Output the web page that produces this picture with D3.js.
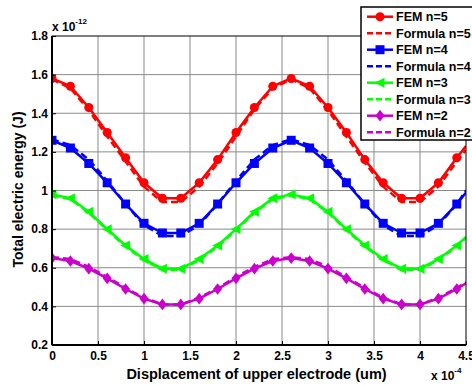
<!DOCTYPE html>
<html>
<head>
<meta charset="utf-8">
<script src="https://cdn.jsdelivr.net/npm/d3@7"></script>
<style>
  html, body { margin: 0; padding: 0; background: #fff; }
  svg { display: block; font-family: "Liberation Sans", Arial, sans-serif; }
</style>
</head>
<body>
<svg id="chart" width="472" height="386"></svg>
<script>
// Displacement of the upper electrode, in units of 1e-4 um
const displacement = [0, 0.2, 0.4, 0.6, 0.8, 1.0, 1.2, 1.4, 1.6, 1.8, 2.0, 2.2, 2.4, 2.6, 2.8, 3.0, 3.2, 3.4, 3.6, 3.8, 4.0, 4.2, 4.4, 4.5];

// Total electric energy, in units of 1e-12 J
const femN5     = [1.58, 1.54, 1.43, 1.30, 1.17, 1.04, 0.96, 0.96, 1.04, 1.16, 1.30, 1.43, 1.54, 1.58, 1.54, 1.43, 1.30, 1.16, 1.04, 0.96, 0.96, 1.04, 1.17, 1.23];
const formulaN5 = [1.575, 1.53, 1.415, 1.28, 1.15, 1.02, 0.94, 0.94, 1.02, 1.14, 1.28, 1.42, 1.53, 1.575, 1.53, 1.415, 1.28, 1.145, 1.02, 0.94, 0.94, 1.02, 1.15, 1.21];
const femN4     = [1.26, 1.22, 1.14, 1.04, 0.93, 0.83, 0.78, 0.78, 0.83, 0.93, 1.04, 1.14, 1.22, 1.26, 1.22, 1.14, 1.04, 0.93, 0.83, 0.78, 0.78, 0.83, 0.93, 0.99];
const formulaN4 = [1.265, 1.235, 1.16, 1.05, 0.93, 0.82, 0.765, 0.765, 0.82, 0.93, 1.05, 1.16, 1.235, 1.265, 1.235, 1.16, 1.05, 0.93, 0.82, 0.765, 0.765, 0.82, 0.93, 1.0];
const femN3     = [0.98, 0.96, 0.89, 0.80, 0.715, 0.645, 0.595, 0.595, 0.645, 0.715, 0.80, 0.89, 0.96, 0.98, 0.96, 0.89, 0.80, 0.715, 0.645, 0.595, 0.595, 0.645, 0.715, 0.76];
const formulaN3 = [0.975, 0.955, 0.885, 0.795, 0.71, 0.64, 0.59, 0.59, 0.64, 0.71, 0.795, 0.885, 0.955, 0.975, 0.955, 0.885, 0.795, 0.71, 0.64, 0.59, 0.59, 0.64, 0.71, 0.755];
const femN2     = [0.65, 0.635, 0.595, 0.545, 0.49, 0.44, 0.41, 0.41, 0.44, 0.49, 0.545, 0.595, 0.635, 0.65, 0.635, 0.595, 0.545, 0.49, 0.44, 0.41, 0.41, 0.44, 0.49, 0.52];
const formulaN2 = [0.655, 0.645, 0.605, 0.552, 0.495, 0.445, 0.41, 0.41, 0.445, 0.495, 0.552, 0.605, 0.645, 0.655, 0.645, 0.605, 0.552, 0.495, 0.445, 0.41, 0.41, 0.445, 0.495, 0.525];

const xTicks = [0, 0.5, 1, 1.5, 2, 2.5, 3, 3.5, 4, 4.5];
const yTicks = [0.2, 0.4, 0.6, 0.8, 1, 1.2, 1.4, 1.6, 1.8];

const seriesNames = ["FEM n=5", "Formula n=5", "FEM n=4", "Formula n=4", "FEM n=3", "Formula n=3", "FEM n=2", "Formula n=2"];
const seriesValues = [femN5, formulaN5, femN4, formulaN4, femN3, formulaN3, femN2, formulaN2];
const seriesColors = ["#ff0000", "#ff0000", "#0000ff", "#0000ff", "#00ff00", "#00ff00", "#cc00cc", "#cc00cc"];
const seriesMarkers = ["circle", null, "square", null, "triangleLeft", null, "diamond", null];

const svg = d3.select("#chart");
const margin = { left: 52, right: 6, top: 36, bottom: 41 };
const W = 472, H = 386;
const plotW = W - margin.left - margin.right;
const plotH = H - margin.top - margin.bottom;

const x = d3.scaleLinear().domain([0, 4.5]).range([margin.left, margin.left + plotW]);
const y = d3.scaleLinear().domain([0.2, 1.8]).range([margin.top + plotH, margin.top]);

// Grid
const grid = svg.append("g").attr("stroke", "#8a8a8a").attr("stroke-width", 1);
xTicks.slice(1, -1).forEach(t => {
  grid.append("line").attr("x1", x(t)).attr("x2", x(t)).attr("y1", y(0.2)).attr("y2", y(1.8));
});
yTicks.slice(1, -1).forEach(t => {
  grid.append("line").attr("x1", x(0)).attr("x2", x(4.5)).attr("y1", y(t)).attr("y2", y(t));
});

// Clip for data marks
svg.append("defs").append("clipPath").attr("id", "plotClip")
  .append("rect").attr("x", margin.left).attr("y", margin.top).attr("width", plotW).attr("height", plotH);

function markerPath(kind, s) {
  if (kind === "circle") return d3.symbol(d3.symbolCircle, s * s * 0.8)();
  if (kind === "square") return `M${-s/2},${-s/2}H${s/2}V${s/2}H${-s/2}Z`;
  if (kind === "triangleLeft") return `M${-s*0.6},0L${s*0.5},${-s*0.55}L${s*0.5},${s*0.55}Z`;
  if (kind === "diamond") return `M0,${-s*0.65}L${s*0.5},0L0,${s*0.65}L${-s*0.5},0Z`;
  return "";
}

const data = svg.append("g").attr("clip-path", "url(#plotClip)");
const line = d3.line().x(d => x(d[0])).y(d => y(d[1]));

seriesValues.forEach((vals, i) => {
  const pts = displacement.map((d, j) => [d, vals[j]]);
  const dashed = seriesMarkers[i] === null;
  data.append("path")
    .attr("d", line(pts))
    .attr("fill", "none")
    .attr("stroke", seriesColors[i])
    .attr("stroke-width", 2.5)
    .attr("stroke-dasharray", dashed ? "7,4" : null)
    .attr("stroke-linejoin", "round");
  if (!dashed) {
    data.selectAll(null)
      .data(pts.filter(p => p[0] <= 4.4))
      .enter().append("path")
      .attr("transform", p => `translate(${x(p[0])},${y(p[1])})`)
      .attr("d", markerPath(seriesMarkers[i], 9))
      .attr("fill", seriesColors[i]);
  }
});

// Axes box
svg.append("rect")
  .attr("x", margin.left).attr("y", margin.top).attr("width", plotW).attr("height", plotH)
  .attr("fill", "none").attr("stroke", "#000").attr("stroke-width", 1);
svg.append("line").attr("x1", margin.left).attr("x2", margin.left).attr("y1", margin.top).attr("y2", margin.top + plotH)
  .attr("stroke", "#000").attr("stroke-width", 2);
svg.append("line").attr("x1", margin.left).attr("x2", margin.left + plotW).attr("y1", margin.top + plotH).attr("y2", margin.top + plotH)
  .attr("stroke", "#000").attr("stroke-width", 2);

// Axes with inward ticks
const xAxis = d3.axisBottom(x).tickValues(xTicks).tickSizeInner(-4).tickSizeOuter(0).tickPadding(6)
  .tickFormat(d => d3.format("~g")(d));
const gx = svg.append("g").attr("transform", `translate(0,${margin.top + plotH})`).call(xAxis);
const yAxis = d3.axisLeft(y).tickValues(yTicks).tickSizeInner(-4).tickSizeOuter(0).tickPadding(4)
  .tickFormat(d => d3.format("~g")(d));
const gy = svg.append("g").attr("transform", `translate(${margin.left},0)`).call(yAxis);
[gx, gy].forEach(g => {
  g.select(".domain").remove();
  g.selectAll(".tick line").attr("stroke", "#000");
  g.selectAll(".tick text").attr("font-size", 12).attr("font-weight", "bold").attr("fill", "#000")
    .attr("font-family", "Liberation Sans, Arial, sans-serif");
});

// Exponent annotations
const expY = svg.append("text").attr("x", 52).attr("y", 31).attr("font-size", 12).attr("font-weight", "bold");
expY.append("tspan").text("x 10");
expY.append("tspan").attr("dy", -7).attr("font-size", 8).text("-12");
const expX = svg.append("text").attr("x", 431).attr("y", 380).attr("font-size", 12).attr("font-weight", "bold");
expX.append("tspan").text("x 10");
expX.append("tspan").attr("dy", -7).attr("font-size", 8).text("-4");

// Axis titles
svg.append("text").attr("x", 256.5).attr("y", 379).attr("text-anchor", "middle")
  .attr("font-size", 14.5).attr("font-weight", "bold").text("Displacement of upper electrode (um)");
svg.append("text").attr("transform", `translate(23,189.5) rotate(-90)`).attr("text-anchor", "middle")
  .attr("font-size", 14).attr("font-weight", "bold").text("Total electric energy (J)");

// Legend
const legend = svg.append("g");
legend.append("rect").attr("x", 361).attr("y", 7).attr("width", 130).attr("height", 133)
  .attr("fill", "#fff").attr("stroke", "#000").attr("stroke-width", 1.5);
seriesNames.forEach((name, i) => {
  const cy = 16.7 + i * 16.5;
  const dashed = seriesMarkers[i] === null;
  legend.append("line").attr("x1", 367).attr("x2", 393).attr("y1", cy).attr("y2", cy)
    .attr("stroke", seriesColors[i]).attr("stroke-width", 2.5)
    .attr("stroke-dasharray", dashed ? "6,3" : null);
  if (!dashed) {
    legend.append("path").attr("transform", `translate(380,${cy})`)
      .attr("d", markerPath(seriesMarkers[i], 9)).attr("fill", seriesColors[i]);
  }
  legend.append("text").attr("x", 396).attr("y", cy + 4.5).attr("font-size", 12.5).attr("font-weight", "bold").text(name);
});
</script>
</body>
</html>
